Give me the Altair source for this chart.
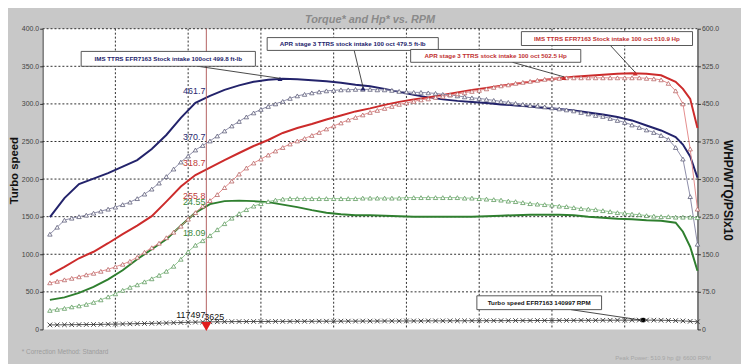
import altair as alt
import pandas as pd

FONT = "Liberation Sans"

# ---------------- data ----------------
RPM_SOLID = [2550, 2650, 2750, 2850, 2950, 3050, 3150, 3250, 3350, 3450,
             3550, 3650, 3750, 3850, 3950, 4050, 4150, 4250, 4350, 4450,
             4550, 4650, 4750, 4850, 4950, 5050, 5150, 5250, 5350, 5450,
             5550, 5650, 5750, 5850, 5950, 6050, 6150, 6250, 6350, 6450,
             6550, 6650, 6750, 6850, 6900, 6950, 7000]
IMS_TORQUE = [224, 262, 290, 301, 312, 325, 338, 360, 388, 422,
              452, 466, 478, 487, 494, 498, 500, 499, 497, 495,
              492, 488, 485, 480, 474, 468, 463, 459, 456, 454,
              452, 449, 447, 445, 442, 440, 437, 433, 429, 424,
              417, 407, 397, 384, 369, 345, 303]
IMS_POWER = [109, 125, 142, 155, 172, 190, 207, 226, 255, 285,
             308, 323, 338, 352, 366, 378, 392, 402, 410, 419,
             427, 435, 441, 448, 454, 459, 463, 468, 473, 478,
             482, 486, 490, 494, 498, 501, 504, 506, 508, 510,
             511, 510, 507, 494, 480, 460, 402]
IMS_BOOST = [59, 64, 73, 85, 100, 118, 140, 160, 180, 207,
             233, 250, 256, 257, 256, 254, 249, 244, 238, 233,
             230, 228, 228, 227, 226, 225, 225, 225, 225, 225,
             226, 227, 228, 229, 229, 229, 228, 225, 223, 221,
             220, 218, 217, 213, 195, 165, 117]

RPM_FINE = [2550, 2600, 2650, 2700, 2750, 2800, 2850, 2900, 2950, 3000,
            3050, 3100, 3150, 3200, 3250, 3300, 3350, 3400, 3450, 3500,
            3550, 3600, 3650, 3700, 3750, 3800, 3850, 3900, 3950, 4000,
            4050, 4100, 4150, 4200, 4250, 4300, 4350, 4400, 4450, 4500,
            4550, 4600, 4650, 4700, 4750, 4800, 4850, 4900, 4950, 5000,
            5050, 5100, 5150, 5200, 5250, 5300, 5350, 5400, 5450, 5500,
            5550, 5600, 5650, 5700, 5750, 5800, 5850, 5900, 5950, 6000,
            6050, 6100, 6150, 6200, 6250, 6300, 6350, 6400, 6450, 6500,
            6550, 6600, 6650, 6700, 6750, 6800, 6850, 6900, 6950, 7000]
APR_TORQUE = [190, 204, 218, 222, 225, 228, 232, 236, 240, 244,
              249, 254, 261, 270, 280, 292, 305, 320, 334, 346,
              358, 367, 376, 386, 396, 406, 415, 424, 432, 439,
              445, 450, 455, 461, 466, 469, 472, 474, 476, 477,
              478, 478, 479, 479, 479, 478, 478, 477, 475, 474,
              473, 473, 472, 471, 469, 468, 466, 464, 462, 461,
              459, 457, 455, 453, 451, 449, 447, 446, 444, 442,
              440, 438, 436, 433, 430, 427, 425, 421, 417, 413,
              408, 403, 398, 393, 387, 379, 363, 340, 265, 170]
APR_POWER = [93, 96, 99, 102, 105, 109, 112, 116, 120, 125,
             130, 136, 144, 154, 163, 172, 183, 194, 206, 220,
             233, 246, 257, 269, 283, 296, 310, 322, 332, 340,
             348, 356, 363, 370, 376, 381, 387, 393, 400, 406,
             412, 418, 423, 428, 433, 437, 441, 445, 449, 452,
             455, 458, 460, 463, 465, 468, 470, 472, 475, 477,
             480, 483, 486, 488, 491, 493, 495, 497, 499, 500,
             501, 502, 502, 502, 502, 502, 502, 502, 502, 502,
             502, 502, 501, 500, 498, 491, 476, 450, 360, 240]
APR_BOOST = [38, 40, 42, 45, 47, 50, 54, 59, 65, 71,
             78, 84, 89, 95, 101, 108, 116, 126, 140, 155,
             168, 177, 187, 199, 211, 222, 231, 239, 246, 251,
             255, 258, 260, 261, 261, 261, 261, 261, 261, 261,
             261, 261, 261, 262, 262, 262, 262, 262, 262, 263,
             263, 263, 263, 263, 263, 263, 263, 262, 262, 261,
             260, 259, 258, 256, 255, 253, 251, 250, 249, 248,
             246, 245, 243, 241, 240, 239, 237, 235, 233, 232,
             230, 229, 227, 226, 225, 225, 224, 224, 224, 223]
TURBO_SPEED = [6.0, 6.1, 6.2, 6.3, 6.4, 6.5, 6.6, 6.7, 6.9, 7.1,
               7.3, 7.5, 7.7, 7.9, 8.1, 8.3, 8.6, 8.9, 9.2, 9.5,
               9.7, 9.9, 10.1, 10.2, 10.3, 10.4, 10.5, 10.5, 10.6, 10.6,
               10.6, 10.7, 10.7, 10.7, 10.8, 10.8, 10.8, 10.9, 10.9, 10.9,
               11.0, 11.0, 11.0, 11.1, 11.1, 11.1, 11.2, 11.2, 11.2, 11.3,
               11.3, 11.3, 11.4, 11.4, 11.4, 11.5, 11.5, 11.5, 11.6, 11.6,
               11.6, 11.7, 11.7, 11.7, 11.8, 11.8, 11.8, 11.9, 11.9, 11.9,
               12.0, 12.0, 12.0, 12.1, 12.1, 12.1, 12.2, 12.2, 12.3, 12.3,
               12.3, 12.4, 12.4, 12.3, 12.2, 12.0, 11.7, 11.3, 10.8, 10.2]

X_TICKS = [2500, 3000, 3500, 4000, 4500, 5000, 5500, 6000, 6500, 7000]
LEFT_TICKS = [0, 50, 100, 150, 200, 250, 300, 350, 400]
RIGHT_TICKS = [0, 75, 150, 225, 300, 375, 450, 525, 600]

CURSOR_RPM = 3625
CURSOR_TEXT = ["461.7", "370.7", "318.7", "255.8", "24.55", "18.09", "117497"]
CURSOR_Y = [476, 383, 332, 267, 255, 192, 28]
CURSOR_COLOR = ["#2a2a70", "#2a2a70", "#c03a3a", "#c03a3a", "#3a8a3a", "#3a8a3a", "#111111"]

PEAK_RPM = [4131, 4702, 6572, 6082]
PEAK_VAL = [500, 481, 511, 502]
PEAK_COLOR = ["#23236b", "#23236b", "#cc2b2b", "#cc2b2b"]
TURBO_PEAK_RPM = [6626]
TURBO_PEAK_VAL = [12.4]

ANN_TEXT = ["IMS TTRS EFR7163 Stock intake 100oct 499.8 ft-lb",
            "APR stage 3 TTRS stock intake 100 oct 479.5 ft-lb",
            "IMS TTRS EFR7163 Stock intake 100 oct 510.9 Hp",
            "APR stage 3 TTRS stock intake 100 oct 502.5 Hp",
            "Turbo speed EFR7163 140997 RPM"]
ANN_COLOR = ["#23236b", "#23236b", "#c03030", "#c03030", "#111111"]
ANN_X1 = [2765, 4043, 5790, 5029, 5484]
ANN_X2 = [3962, 5219, 6966, 6198, 6341]
ANN_Y1 = [554.7, 582.3, 594.2, 558.6, 67.1]
ANN_Y2 = [525.1, 556.7, 566.5, 533.0, 39.5]
LEAD_X1 = [3567, 4641, 6402, 5729, 6130]
LEAD_Y1 = [525.1, 556.7, 566.5, 533.0, 39.5]
LEAD_X2 = [4131, 4702, 6572, 6082, 6626]
LEAD_Y2 = [501, 483, 513, 504, 18]

# ---------------- frames ----------------
solid = pd.concat([
    pd.DataFrame({"rpm": RPM_SOLID, "v": IMS_TORQUE, "s": "IMS torque"}),
    pd.DataFrame({"rpm": RPM_SOLID, "v": IMS_POWER, "s": "IMS power"}),
    pd.DataFrame({"rpm": RPM_SOLID, "v": IMS_BOOST, "s": "IMS boost"}),
])
fine_sets = [
    ("APR torque", APR_TORQUE, "#8d8da8", "#5c5c78"),
    ("APR power", APR_POWER, "#e48d8d", "#b86464"),
    ("APR boost", APR_BOOST, "#92c792", "#5f9a5f"),
]
turbo = pd.DataFrame({"rpm": RPM_FINE, "v": TURBO_SPEED})
ann = pd.DataFrame({"t": ANN_TEXT, "c": ANN_COLOR, "x1": ANN_X1, "x2": ANN_X2,
                    "y1": ANN_Y1, "y2": ANN_Y2,
                    "tx": [(a + b) / 2 for a, b in zip(ANN_X1, ANN_X2)],
                    "ty": [(a + b) / 2 for a, b in zip(ANN_Y1, ANN_Y2)],
                    "lx1": LEAD_X1, "ly1": LEAD_Y1, "lx2": LEAD_X2, "ly2": LEAD_Y2})
cur = pd.DataFrame({"rpm": CURSOR_RPM, "t": CURSOR_TEXT, "v": CURSOR_Y, "c": CURSOR_COLOR})
peaks = pd.DataFrame({"rpm": PEAK_RPM, "v": PEAK_VAL, "c": PEAK_COLOR})

W, H = 662, 304
LBL = "datum.value == 0 ? '0' : format(datum.value, '.1f')"


def XS():
    return alt.Scale(domain=[2500, 7000], nice=False, zero=False)


def YL():
    return alt.Scale(domain=[0, 400], nice=False)


def YR():
    return alt.Scale(domain=[0, 600], nice=False)


x_axis = alt.Axis(values=X_TICKS, format="d", labelFontSize=7, labelColor="#444",
                  labelFont=FONT, tickSize=3, tickColor="#333", domainColor="#333",
                  labelPadding=1, title="Engine RPM (RPM)", titleFont=FONT,
                  titleFontSize=12, titleFontWeight="bold", titleColor="#111",
                  titleY=18, titleBaseline="middle", grid=False)
left_axis = alt.Axis(values=LEFT_TICKS, labelExpr=LBL, labelFontSize=7, labelColor="#444",
                     labelFont=FONT, tickSize=3, tickColor="#333", domainColor="#333",
                     labelPadding=1, title="Turbo speed", titleFont=FONT, titleFontSize=11.5,
                     titleFontWeight="bold", titleColor="#111", titleX=-28, titleY=143,
                     titleAngle=270, titleAlign="center", titleBaseline="middle", grid=False)
right_axis = alt.Axis(orient="right", values=RIGHT_TICKS, labelExpr=LBL, labelFontSize=7,
                      labelColor="#444", labelFont=FONT, tickSize=3, tickColor="#333",
                      domainColor="#222", labelPadding=1, grid=False,
                      title="WHP/WTQ/PSIx10", titleFont=FONT, titleFontSize=12,
                      titleFontWeight="bold", titleColor="#111", titleX=30, titleY=163,
                      titleAngle=90, titleAlign="center", titleBaseline="middle")


def X(f="rpm", axis=None):
    return alt.X(f"{f}:Q", scale=XS(), axis=axis)


def YLf(f="v", axis=None):
    return alt.Y(f"{f}:Q", scale=YL(), axis=axis)


def YRf(f="v", axis=None):
    return alt.Y(f"{f}:Q", scale=YR(), axis=axis)


XMARK = "M-1,-1L1,1M-1,1L1,-1"
GRID_STYLE = dict(color="#2e2e2e", strokeWidth=1, strokeDash=[2, 2], opacity=1)
layers = []

# dotted grid (from the tick lists)
layers.append(alt.Chart(pd.DataFrame({"t": X_TICKS[1:-1]})).mark_rule(**GRID_STYLE).encode(
    x=X("t", axis=x_axis)))
layers.append(alt.Chart(pd.DataFrame({"t": LEFT_TICKS[1:]})).mark_rule(**GRID_STYLE).encode(
    y=YLf("t", axis=left_axis)))

# turbo speed (left axis)
layers.append(alt.Chart(turbo).mark_line(color="#555", strokeWidth=1).encode(
    x=X(), y=YLf()))
# IMS solid curves (right axis)
layers.append(alt.Chart(solid).mark_line(strokeWidth=2).encode(
    x=X(), y=YRf(axis=right_axis), detail="s:N",
    color=alt.Color("s:N", legend=None,
                    scale=alt.Scale(domain=["IMS torque", "IMS power", "IMS boost"],
                                    range=["#23236b", "#cc2b2b", "#2f7f2f"]))))
layers.append(alt.Chart(turbo).mark_point(shape=XMARK, size=22, filled=False,
                                          color="#333", strokeWidth=0.9, opacity=1).encode(
    x=X(), y=YLf()))
layers.append(alt.Chart(pd.DataFrame({"rpm": TURBO_PEAK_RPM, "v": TURBO_PEAK_VAL})).mark_point(
    shape="circle", size=22, filled=True, color="#000", opacity=1).encode(x=X(), y=YLf()))
layers.append(alt.Chart(pd.DataFrame({"rpm": [CURSOR_RPM]})).mark_rule(
    color="#b36060", strokeWidth=1).encode(x=X()))

for name, vals, lc, mc in fine_sets:
    df = pd.DataFrame({"rpm": RPM_FINE, "v": vals})
    layers.append(alt.Chart(df).mark_line(color=lc, strokeWidth=1).encode(x=X(), y=YRf()))
    layers.append(alt.Chart(df).mark_point(shape="triangle-up", size=20, filled=True,
                                           fill="white", stroke=mc, strokeWidth=0.8,
                                           opacity=1).encode(x=X(), y=YRf()))
layers.append(alt.Chart(peaks).mark_point(shape="triangle-up", size=26, filled=True,
                                          opacity=1).encode(
    x=X(), y=YRf(), color=alt.Color("c:N", scale=None)))
layers.append(alt.Chart(ann).mark_rule(color="#333", strokeWidth=0.9).encode(
    x=X("lx1"), y=YRf("ly1"), x2="lx2:Q", y2="ly2:Q"))
layers.append(alt.Chart(ann).mark_rect(fill="white", stroke="#444", strokeWidth=0.9).encode(
    x=X("x1"), x2="x2:Q", y=YRf("y1"), y2="y2:Q"))
layers.append(alt.Chart(ann).mark_text(font=FONT, fontSize=6.3, fontWeight="bold",
                                       baseline="middle", align="center").encode(
    x=X("tx"), y=YRf("ty"), text="t:N", color=alt.Color("c:N", scale=None)))
layers.append(alt.Chart(cur).mark_text(font=FONT, fontSize=9, align="right", dx=-1,
                                       baseline="middle").encode(
    x=X(), y=YRf(), text="t:N", color=alt.Color("c:N", scale=None)))
layers.append(alt.Chart(pd.DataFrame({"rpm": [CURSOR_RPM], "v": [24], "t": [str(CURSOR_RPM)]})).mark_text(
    font=FONT, fontSize=9, align="left", dx=-2, baseline="middle", color="#111").encode(
    x=X(), y=YRf(), text="t:N"))
layers.append(alt.Chart(pd.DataFrame({"rpm": [CURSOR_RPM], "v": [4]})).mark_point(
    shape="triangle-down", size=110, filled=True, color="#e01c1c", opacity=1).encode(x=X(), y=YLf()))


def label(txt, x, y, **kw):
    return alt.Chart(pd.DataFrame({"t": [txt]})).mark_text(font=FONT, **kw).encode(
        text="t:N", x=alt.value(x), y=alt.value(y))


layers.append(label("Torque* and Hp* vs. RPM", 331, -9, fontSize=11, fontStyle="italic",
                    fontWeight="bold", color="#8a8a8a", baseline="middle", align="center"))
layers.append(label("* Correction Method: Standard", -21, 327, fontSize=6.5, color="#9c9c9c",
                    baseline="middle", align="left"))
layers.append(label("Peak Power: 510.9 hp @ 6600 RPM", 579, 333, fontSize=6, color="#a6a6a6",
                    baseline="middle", align="left"))

chart = alt.layer(*layers).resolve_scale(y="independent").properties(
    width=W, height=H, background="#c8c8c8",
    padding={"left": 35, "top": 19, "right": 44, "bottom": 33},
    autosize=alt.AutoSizeParams(type="none"),
).configure_view(fill="white", stroke=None)

chart.save("out.html", embed_options={"renderer": "svg", "actions": False})
